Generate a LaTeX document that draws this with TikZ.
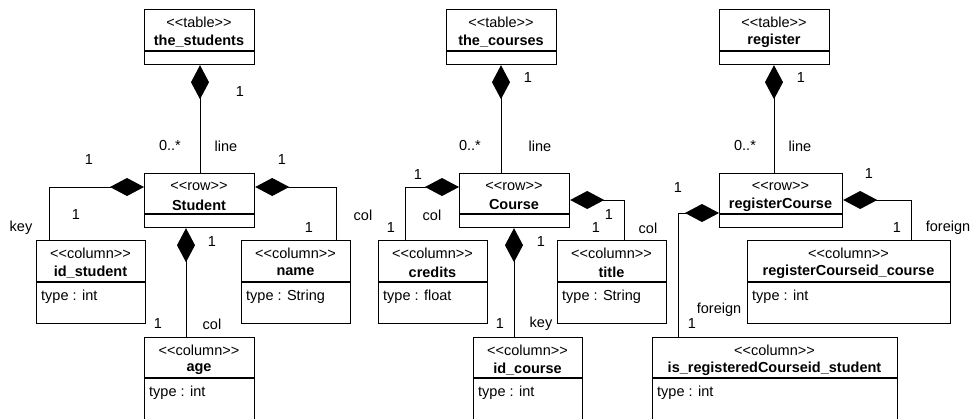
\documentclass[tikz,border=0pt]{standalone}
\usepackage{fontspec}
\setmainfont{Liberation Sans}
\usetikzlibrary{arrows.meta,calc}
\newcommand\umlclass[9]{%
  \node[umlbox, minimum width=#4pt, minimum height=#5pt] (#1) at (#2,#3) {};
  \draw[umlline] (#1.west |- 0,#6) -- (#1.east |- 0,#6);
  \node[stereo] (#1-s) at (#2+#4/2,#3+13) {<{}<#7>{}>};
  \node[cname] (#1-n) at (#2+#4/2,#3+32) {#8};
  \node[attr] (#1-a) at (#2+5,#6+15) {#9};
}
\begin{document}
\begin{tikzpicture}[x=1pt,y=-1pt,
  umlbox/.style={draw, line width=1.2pt, anchor=north west, inner sep=0pt},
  umlline/.style={line width=1.2pt},
  stereo/.style={font=\fontsize{14.5}{16}\selectfont, inner sep=0pt},
  cname/.style={font=\fontsize{14.5}{16}\selectfont\bfseries, inner sep=0pt},
  attr/.style={font=\fontsize{14.5}{16}\selectfont, inner sep=0pt, anchor=west},
  lbl/.style={font=\fontsize{14.5}{16}\selectfont, inner sep=0pt},
  comp/.style={line width=1pt, line join=miter, {Diamond[length=34pt,width=18pt]}-}]
\clip (0,0) rectangle (977,418);
\fill[white] (0,0) rectangle (977,418);
% left group
\umlclass{ts}{144}{9}{110}{55}{51}{table}{the\_students}{}
\umlclass{st}{144}{173}{110}{54}{214}{row}{Student}{}
\umlclass{ids}{36}{240}{109}{83}{282}{column}{id\_student}{type : int}
\umlclass{nm}{241}{240}{109}{83}{282}{column}{name}{type : String}
\umlclass{ag}{144}{337}{110}{100}{378}{column}{age}{type : int}
% middle group
\umlclass{tc}{446}{9}{110}{55}{51}{table}{the\_courses}{}
\umlclass{co}{459}{173}{110}{54}{214}{row}{Course}{}
\umlclass{cr}{378}{240}{109}{83}{282}{column}{credits}{type : float}
\umlclass{ti}{557}{240}{109}{83}{282}{column}{title}{type : String}
\umlclass{ic}{473}{337}{109}{100}{378}{column}{id\_course}{type : int}
% right group
\umlclass{rg}{719}{9}{110}{55}{51}{table}{register}{}
\umlclass{rc}{719}{173}{123}{54}{214}{row}{registerCourse}{}
\umlclass{rci}{747}{240}{203}{83}{282}{column}{registerCourseid\_course}{type : int}
\umlclass{irs}{652}{337}{245}{100}{378}{column}{is\_registeredCourseid\_student}{type : int}
% connectors left
\draw[comp] (ts.south -| 200,0) -- (st.north -| 200,0);
\draw[comp] (st.west |- 0,187) -| (ids.north -| 49,0);
\draw[comp] (st.east |- 0,187) -| (nm.north -| 336,0);
\draw[comp] (st.south -| 186,0) -- (ag.north -| 186,0);
% connectors middle
\draw[comp] (tc.south -| 501,0) -- (co.north -| 501,0);
\draw[comp] (co.west |- 0,187) -| (cr.north -| 405,0);
\draw[comp] (co.east |- 0,200) -| (ti.north -| 624,0);
\draw[comp] (co.south -| 514,0) -- (ic.north -| 514,0);
% connectors right
\draw[comp] (rg.south -| 774,0) -- (rc.north -| 774,0);
\draw[comp] (rc.east |- 0,200) -| (rci.north -| 911,0);
\draw[comp] (rc.west |- 0,213) -| (irs.north -| 678,0);
% labels left
\node[lbl] (a1) at (240,92) {1};
\node[lbl] (a2) at (170,146) {0..*};
\node[lbl] (a3) at (226,146) {line};
\node[lbl] (a4) at (89,160) {1};
\node[lbl] (a5) at (76,215) {1};
\node[lbl] (a6) at (21,228) {key};
\node[lbl] (a7) at (282,160) {1};
\node[lbl] (a8) at (309,228) {1};
\node[lbl] (a9) at (363,215) {col};
\node[lbl] (a10) at (212,242) {1};
\node[lbl] (a11) at (158,324) {1};
\node[lbl] (a12) at (212,324) {col};
% labels middle
\node[lbl] (b1) at (528,78) {1};
\node[lbl] (b2) at (470,146) {0..*};
\node[lbl] (b3) at (540,146) {line};
\node[lbl] (b4) at (418,175) {1};
\node[lbl] (b5) at (432,215) {col};
\node[lbl] (b6) at (391,228) {1};
\node[lbl] (b7) at (609,215) {1};
\node[lbl] (b8) at (596,228) {1};
\node[lbl] (b9) at (648,228) {col};
\node[lbl] (b10) at (541,242) {1};
\node[lbl] (b11) at (500,324) {1};
\node[lbl] (b12) at (541,324) {key};
% labels right
\node[lbl] (c1) at (801,78) {1};
\node[lbl] (c2) at (745,146) {0..*};
\node[lbl] (c3) at (800,146) {line};
\node[lbl] (c4) at (869,174) {1};
\node[lbl] (c5) at (897,228) {1};
\node[lbl] (c6) at (948,228) {foreign};
\node[lbl] (c7) at (678,188) {1};
\node[lbl] (c8) at (719,310) {foreign};
\node[lbl] (c9) at (692,324) {1};
\end{tikzpicture}
\end{document}
